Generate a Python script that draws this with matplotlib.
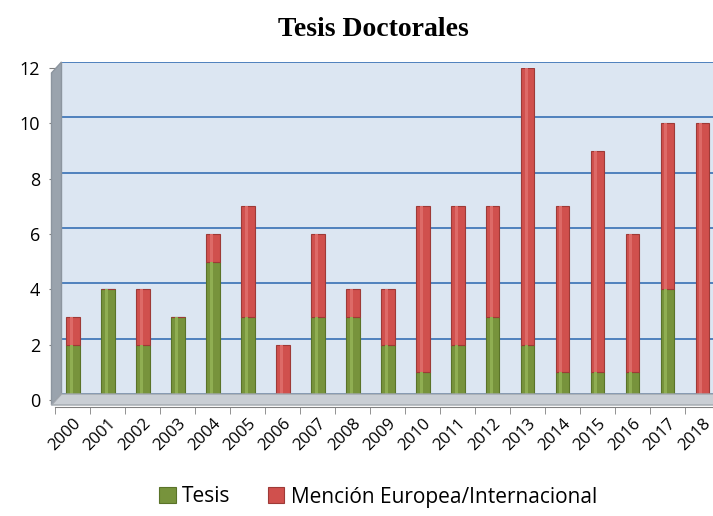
import numpy as np
import matplotlib
matplotlib.use('Agg')
import matplotlib.pyplot as plt
from matplotlib.patches import Polygon

# datos
years = ['2000', '2001', '2002', '2003', '2004', '2005', '2006', '2007', '2008', '2009',
         '2010', '2011', '2012', '2013', '2014', '2015', '2016', '2017', '2018']
tesis = [2, 4, 2, 3, 5, 3, 0, 3, 3, 2, 1, 2, 3, 2, 1, 1, 1, 4, 0]
mencion = [1, 0, 2, 0, 1, 4, 2, 3, 1, 2, 6, 5, 4, 10, 6, 8, 5, 6, 10]
y_ticks = [0, 2, 4, 6, 8, 10, 12]

W, H = 713, 516
fig = plt.figure(figsize=(W / 100, H / 100), dpi=100)

def fx(px):
    return px / W

def fy(py):
    return 1 - py / H

# rectángulo de la zona de barras (píxeles)
left_px, right_px = 55.5, 720
zero_px, top_px = 400, 68
d = 6  # desplazamiento de profundidad

# pared del fondo
ax_bg = fig.add_axes([fx(left_px + d), fy(zero_px - d), fx(right_px - left_px), (zero_px - top_px) / H])
ax_bg.set_facecolor('#dce6f2')
ax_bg.set_xlim(-0.5, 18.5)
ax_bg.set_ylim(0, 12)
for v in y_ticks:
    ax_bg.axhline(v, color='#4f81bd', lw=1.4)
ax_bg.set_xticks([])
ax_bg.set_yticks([])
for s in ax_bg.spines.values():
    s.set_visible(False)

# pared lateral y suelo
wall = Polygon([(fx(left_px - 4), fy(zero_px + 5)), (fx(left_px + d), fy(zero_px - d)),
                (fx(left_px + d), fy(top_px - d)), (fx(left_px - 4), fy(top_px + 5))],
               closed=True, transform=fig.transFigure, facecolor='#9aa3ad', edgecolor='#8c959f', zorder=1)
fig.patches.append(wall)
floor = Polygon([(fx(left_px - 4), fy(zero_px + 5)), (fx(left_px + d), fy(zero_px - d)),
                 (fx(right_px + d), fy(zero_px - d)), (fx(right_px - 4), fy(zero_px + 5))],
                closed=True, transform=fig.transFigure, facecolor='#c9ced4', edgecolor='#a0a6ad', zorder=1)
fig.patches.append(floor)

# barras
ax = fig.add_axes([fx(left_px), fy(zero_px), fx(right_px - left_px), (zero_px - top_px) / H])
ax.patch.set_visible(False)
for s in ['top', 'right', 'left']:
    ax.spines[s].set_visible(False)
ax.spines['bottom'].set_position(('outward', 5))
ax.spines['bottom'].set_color('#808080')

x = np.arange(len(years))
w = 0.39
b1 = ax.bar(x, tesis, w, color='#77933c', edgecolor='#5a7329', lw=0.8, label='Tesis', zorder=3)
b2 = ax.bar(x, mencion, w, bottom=tesis, color='#d0504d', edgecolor='#9e3a37', lw=0.8,
            label='Mención Europea/Internacional', zorder=3)
# brillo de cilindro
ax.bar(x - w * 0.12, tesis, w * 0.22, color='#8fae52', lw=0, zorder=4)
ax.bar(x - w * 0.12, mencion, w * 0.22, bottom=tesis, color='#dd6a67', lw=0, zorder=4)

ax.set_xlim(-0.5, 18.5)
ax.set_ylim(0, 12)
ax.set_yticks(y_ticks)
ax.set_xticks(np.arange(-0.5, 19, 1), minor=True)
ax.tick_params(axis='x', which='major', length=0, pad=6, labelsize=12)
ax.tick_params(axis='x', which='minor', length=5, color='#808080')
ax.tick_params(axis='y', length=5, color='#808080', labelsize=13, pad=6)
ax.set_xticks(x)
ax.set_xticklabels(years, rotation=45, ha='right', rotation_mode='anchor', family='Open Sans')
for lab in ax.get_yticklabels():
    lab.set_fontfamily('Open Sans')

fig.text(0.524, fy(29), 'Tesis Doctorales', ha='center', va='center',
         fontsize=20, fontweight='bold', family='Liberation Serif')

fig.legend(handles=[b1, b2], loc='center', bbox_to_anchor=(0.53, fy(497)), ncol=2,
           frameon=False, prop={'family': 'Open Sans', 'size': 15},
           handlelength=0.8, handleheight=0.8, handletextpad=0.3, columnspacing=1.8)

fig.savefig('out.png', dpi=100)
